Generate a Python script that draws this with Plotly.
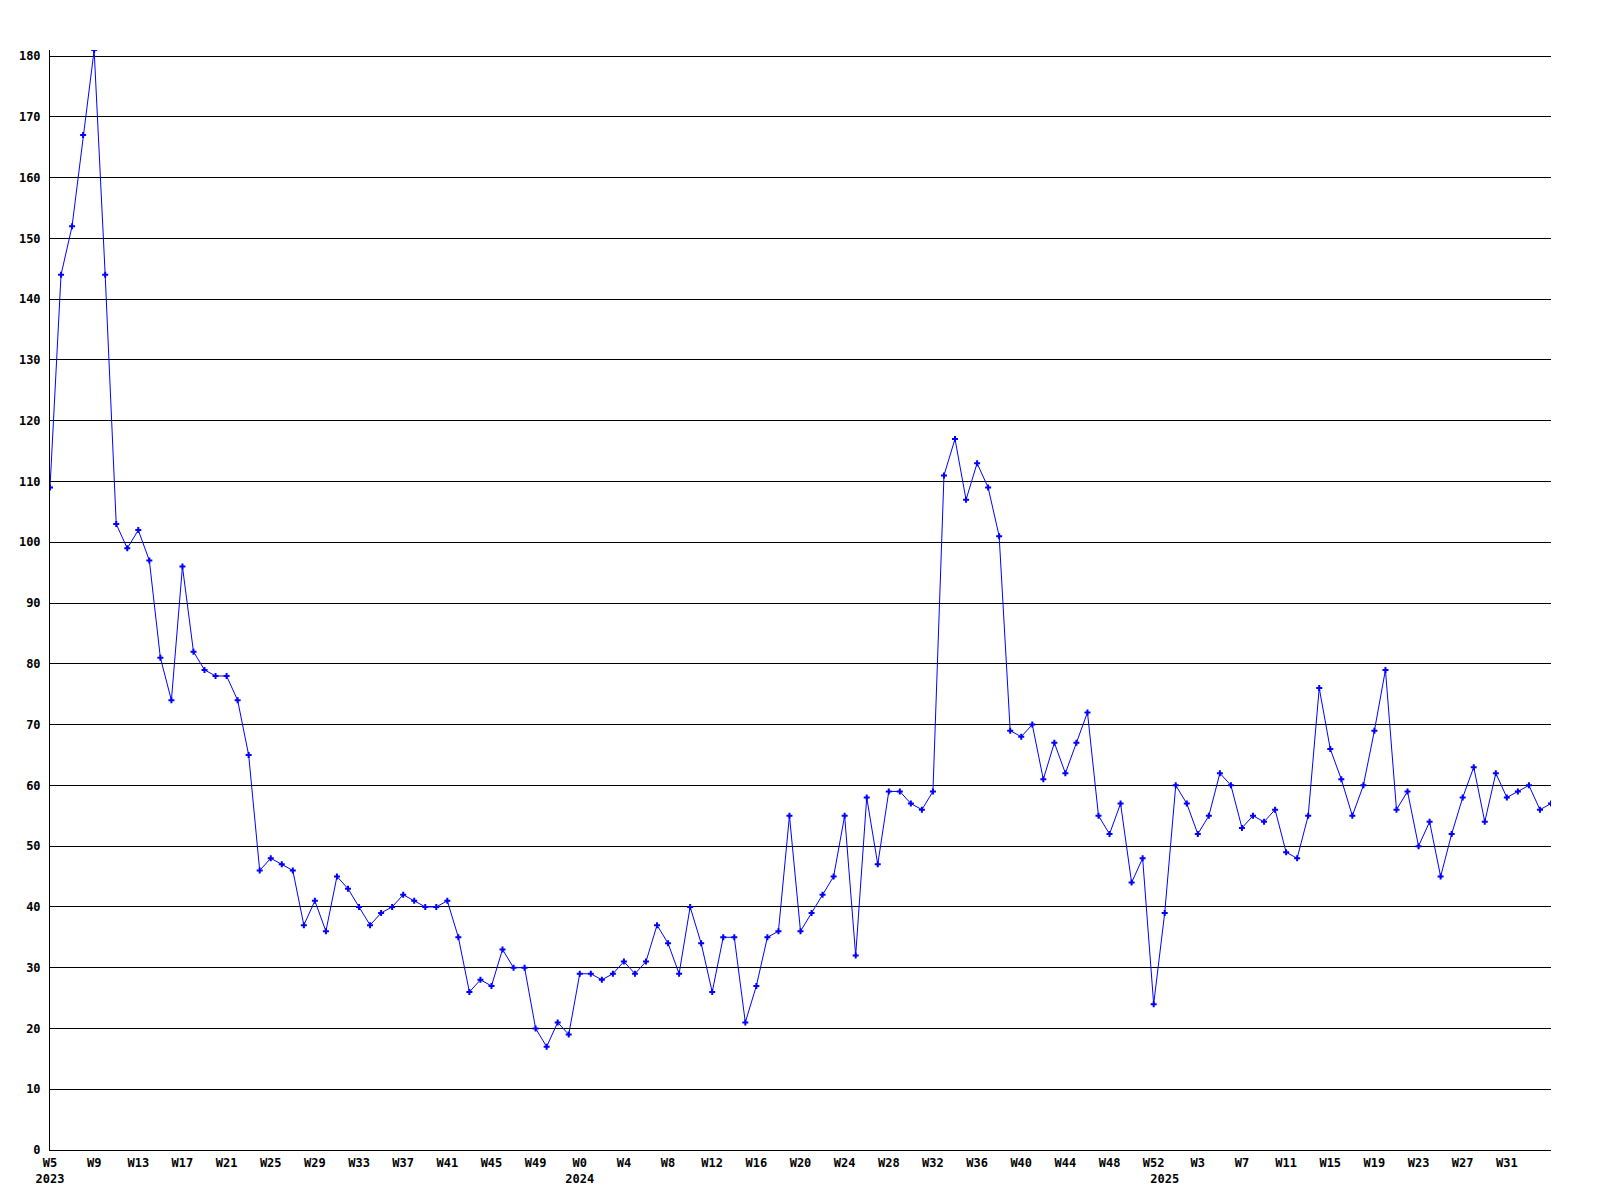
import plotly.graph_objects as go

# Week categories (year, week) in plotting order
weeks_2023 = list(range(5, 53))   # W5 .. W52
weeks_2024 = list(range(0, 53))   # W0 .. W52
weeks_2025 = list(range(0, 36))   # W0 .. W35

categories = ([f"2023-W{w}" for w in weeks_2023] +
              [f"2024-W{w}" for w in weeks_2024] +
              [f"2025-W{w}" for w in weeks_2025])

values_2023 = [109, 144, 152, 167, 181, 144, 103, 99, 102, 97, 81, 74, 96, 82, 79, 78,
               78, 74, 65, 46, 48, 47, 46, 37, 41, 36, 45, 43, 40, 37, 39, 40,
               42, 41, 40, 40, 41, 35, 26, 28, 27, 33, 30, 30, 20, 17, 21, 19]
values_2024 = [29, 29, 28, 29, 31, 29, 31, 37, 34, 29, 40, 34, 26, 35, 35, 21,
               27, 35, 36, 55, 36, 39, 42, 45, 55, 32, 58, 47, 59, 59, 57, 56,
               59, 111, 117, 107, 113, 109, 101, 69, 68, 70, 61, 67, 62, 67, 72, 55,
               52, 57, 44, 48, 24]
values_2025 = [39, 60, 57, 52, 55, 62, 60, 53, 55, 54, 56, 49, 48, 55, 76, 66,
               61, 55, 60, 69, 79, 56, 59, 50, 54, 45, 52, 58, 63, 54, 62, 58,
               59, 60, 56, 57]
values = values_2023 + values_2024 + values_2025

# Tick labels
tick_cats = (["2023-W5", "2023-W9", "2023-W13", "2023-W17", "2023-W21", "2023-W25",
              "2023-W29", "2023-W33", "2023-W37", "2023-W41", "2023-W45", "2023-W49",
              "2024-W0", "2024-W4", "2024-W8", "2024-W12", "2024-W16", "2024-W20",
              "2024-W24", "2024-W28", "2024-W32", "2024-W36", "2024-W40", "2024-W44",
              "2024-W48", "2024-W52", "2025-W0",
              "2025-W3", "2025-W7", "2025-W11", "2025-W15", "2025-W19", "2025-W23",
              "2025-W27", "2025-W31"])
tick_text = (["W5<br>2023", "W9", "W13", "W17", "W21", "W25",
              "W29", "W33", "W37", "W41", "W45", "W49",
              "W0<br>2024", "W4", "W8", "W12", "W16", "W20",
              "W24", "W28", "W32", "W36", "W40", "W44",
              "W48", "W52", " <br>2025",
              "W3", "W7", "W11", "W15", "W19", "W23",
              "W27", "W31"])

y_ticks = list(range(0, 181, 10))

tick_font = dict(family="DejaVu Sans Mono", size=12, color="black", weight="bold")

fig = go.Figure()
fig.add_trace(go.Scatter(
    x=categories, y=values, mode="lines+markers",
    line=dict(color="#0000ff", width=1),
    marker=dict(symbol="cross", size=5, color="#0000ff", line=dict(width=0)),
    showlegend=False,
))

fig.update_layout(
    width=1600, height=1200,
    paper_bgcolor="white", plot_bgcolor="white",
    margin=dict(l=42, r=57, t=42, b=58),
    showlegend=False,
)
fig.update_xaxes(
    type="category", categoryorder="array", categoryarray=categories,
    range=[0, len(categories) - 1],
    tickmode="array", tickvals=tick_cats, ticktext=tick_text,
    tickfont=tick_font, ticks="", ticklabelstandoff=2,
    showgrid=False, zeroline=False,
    showline=True, linecolor="black", linewidth=1,
    tickangle=0,
)
fig.update_yaxes(
    range=[0, 181],
    tickmode="array", tickvals=y_ticks, ticktext=[str(v) for v in y_ticks],
    tickfont=tick_font, ticks="", ticklabelstandoff=6,
    showgrid=True, gridcolor="black", gridwidth=1,
    zeroline=False,
    showline=True, linecolor="black", linewidth=1,
)

fig.write_html("out.html")
